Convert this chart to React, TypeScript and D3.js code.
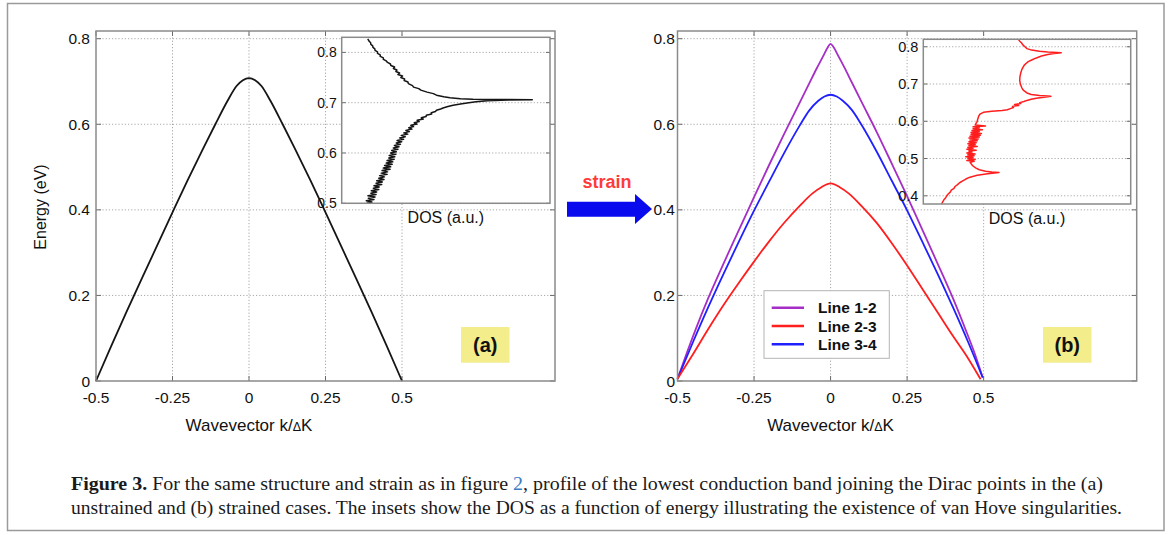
import React from "react";
import * as d3 from "d3";

type P = [number, number];

// ---------- data ----------
const kTicks = [-0.5, -0.25, 0, 0.25, 0.5];
const kTickLabels = ["-0.5", "-0.25", "0", "0.25", "0.5"];
const eTicks = [0, 0.2, 0.4, 0.6, 0.8];
const eTickLabels = ["0", "0.2", "0.4", "0.6", "0.8"];
const insetATicks = [0.5, 0.6, 0.7, 0.8];
const insetATickLabels = ["0.5", "0.6", "0.7", "0.8"];
const insetBTicks = [0.4, 0.5, 0.6, 0.7, 0.8];
const insetBTickLabels = ["0.4", "0.5", "0.6", "0.7", "0.8"];

// (k, E) unstrained lowest conduction band
const bandUnstrained: P[] = [
  [-0.5, 0], [-0.45, 0.082], [-0.4, 0.162], [-0.35, 0.24], [-0.3, 0.317], [-0.25, 0.394],
  [-0.2, 0.47], [-0.15, 0.543], [-0.11, 0.6], [-0.07, 0.655], [-0.04, 0.69], [-0.02, 0.703],
  [0, 0.708], [0.02, 0.703], [0.04, 0.69], [0.07, 0.655], [0.11, 0.6], [0.15, 0.543],
  [0.2, 0.47], [0.25, 0.394], [0.3, 0.317], [0.35, 0.24], [0.4, 0.162], [0.45, 0.082], [0.5, 0],
];

// (k, E) strained bands
const bandLine12: P[] = [
  [-0.5, 0.005], [-0.47, 0.065], [-0.44, 0.122], [-0.4, 0.193], [-0.35, 0.274], [-0.3, 0.352],
  [-0.25, 0.43], [-0.2, 0.506], [-0.15, 0.58], [-0.1, 0.652], [-0.07, 0.695], [-0.045, 0.731],
  [-0.025, 0.758], [-0.01, 0.779], [0, 0.788], [0.01, 0.78], [0.025, 0.76], [0.045, 0.733],
  [0.07, 0.697], [0.1, 0.654], [0.15, 0.583], [0.2, 0.508], [0.25, 0.432], [0.3, 0.353],
  [0.35, 0.274], [0.4, 0.193], [0.44, 0.122], [0.47, 0.066], [0.497, 0.008],
];
const bandLine23: P[] = [
  [-0.5, 0.005], [-0.45, 0.062], [-0.4, 0.121], [-0.35, 0.177], [-0.3, 0.229], [-0.25, 0.279],
  [-0.2, 0.327], [-0.15, 0.371], [-0.1, 0.41], [-0.06, 0.438], [-0.03, 0.453], [0, 0.462],
  [0.03, 0.453], [0.06, 0.438], [0.1, 0.41], [0.15, 0.37], [0.2, 0.322], [0.25, 0.27],
  [0.3, 0.215], [0.35, 0.16], [0.4, 0.105], [0.45, 0.052], [0.49, 0.004],
];
const bandLine34: P[] = [
  [-0.5, 0.005], [-0.45, 0.09], [-0.4, 0.172], [-0.35, 0.25], [-0.3, 0.325], [-0.25, 0.398],
  [-0.2, 0.467], [-0.15, 0.535], [-0.1, 0.598], [-0.07, 0.632], [-0.04, 0.655], [-0.02, 0.665],
  [0, 0.669], [0.02, 0.665], [0.04, 0.655], [0.07, 0.633], [0.1, 0.6], [0.15, 0.537],
  [0.2, 0.468], [0.25, 0.399], [0.3, 0.325], [0.35, 0.25], [0.4, 0.172], [0.45, 0.09], [0.497, 0.008],
];

// (E, DOS a.u.) unstrained inset
const dosUnstrained: P[] = [
  [0.5, 0.12], [0.5025, 0.145], [0.505, 0.118], [0.5075, 0.155], [0.51, 0.128], [0.5125, 0.16],
  [0.515, 0.126], [0.5175, 0.165], [0.52, 0.14], [0.5225, 0.168], [0.525, 0.142], [0.5275, 0.178],
  [0.53, 0.152], [0.5325, 0.18], [0.535, 0.155], [0.5375, 0.192], [0.54, 0.165], [0.5425, 0.195],
  [0.545, 0.168], [0.5475, 0.203], [0.55, 0.178], [0.5525, 0.205], [0.555, 0.182], [0.5575, 0.218],
  [0.56, 0.19], [0.5625, 0.22], [0.565, 0.194], [0.5675, 0.232], [0.57, 0.2], [0.5725, 0.235],
  [0.575, 0.206], [0.5775, 0.242], [0.58, 0.214], [0.5825, 0.245], [0.585, 0.218], [0.5875, 0.252],
  [0.59, 0.226], [0.5925, 0.255], [0.595, 0.228], [0.5975, 0.26], [0.6, 0.235], [0.6025, 0.262],
  [0.605, 0.24], [0.6075, 0.27], [0.61, 0.248], [0.6125, 0.275], [0.615, 0.253], [0.6175, 0.282],
  [0.62, 0.262], [0.6225, 0.288], [0.625, 0.266], [0.6275, 0.297], [0.63, 0.278], [0.6325, 0.305],
  [0.635, 0.286], [0.6375, 0.317], [0.64, 0.298], [0.6425, 0.325], [0.645, 0.308], [0.6475, 0.337],
  [0.65, 0.322], [0.6525, 0.345], [0.655, 0.332], [0.6575, 0.362], [0.66, 0.348], [0.6625, 0.372],
  [0.665, 0.362], [0.6675, 0.392], [0.67, 0.382], [0.6725, 0.405], [0.675, 0.406], [0.6775, 0.432],
  [0.68, 0.43], [0.6825, 0.45], [0.685, 0.455], [0.6875, 0.475], [0.69, 0.49], [0.6925, 0.51],
  [0.695, 0.535], [0.6975, 0.57], [0.7, 0.61], [0.702, 0.645], [0.704, 0.7], [0.7055, 0.8],
  [0.706, 0.915], [0.7065, 0.75], [0.707, 0.63], [0.708, 0.57], [0.71, 0.52], [0.712, 0.49],
  [0.715, 0.455], [0.718, 0.44], [0.721, 0.41], [0.725, 0.38], [0.728, 0.37], [0.731, 0.345],
  [0.734, 0.34], [0.738, 0.32], [0.741, 0.318], [0.744, 0.3], [0.747, 0.302], [0.75, 0.284],
  [0.753, 0.292], [0.756, 0.27], [0.759, 0.278], [0.762, 0.26], [0.765, 0.265], [0.768, 0.248],
  [0.771, 0.254], [0.774, 0.236], [0.777, 0.234], [0.78, 0.22], [0.783, 0.214], [0.786, 0.2],
  [0.789, 0.2], [0.792, 0.185], [0.795, 0.185], [0.798, 0.172], [0.801, 0.172], [0.804, 0.16],
  [0.807, 0.159], [0.81, 0.15], [0.813, 0.149], [0.816, 0.14], [0.819, 0.139], [0.822, 0.132],
  [0.825, 0.128], [0.827, 0.125],
];

// (E, DOS a.u.) strained inset
const dosStrained: P[] = [
  [0.378, 0.088], [0.385, 0.095], [0.39, 0.1], [0.395, 0.108], [0.4, 0.113], [0.405, 0.12],
  [0.41, 0.13], [0.415, 0.135], [0.42, 0.148], [0.425, 0.153], [0.43, 0.165], [0.435, 0.175],
  [0.44, 0.19], [0.445, 0.205], [0.45, 0.225], [0.455, 0.26], [0.459, 0.31], [0.4625, 0.365],
  [0.464, 0.33], [0.466, 0.3], [0.47, 0.27], [0.475, 0.252], [0.48, 0.24], [0.485, 0.232],
  [0.49, 0.226], [0.4925, 0.245], [0.495, 0.21], [0.4975, 0.25], [0.5, 0.215], [0.5025, 0.24],
  [0.505, 0.205], [0.5075, 0.245], [0.51, 0.215], [0.5125, 0.25], [0.515, 0.21], [0.5175, 0.235],
  [0.52, 0.22], [0.5225, 0.255], [0.525, 0.21], [0.5275, 0.24], [0.53, 0.215], [0.5325, 0.26],
  [0.535, 0.22], [0.5375, 0.25], [0.54, 0.215], [0.5425, 0.255], [0.545, 0.22], [0.5475, 0.26],
  [0.55, 0.225], [0.5525, 0.265], [0.555, 0.22], [0.5575, 0.27], [0.56, 0.225], [0.5625, 0.275],
  [0.565, 0.23], [0.5675, 0.28], [0.57, 0.23], [0.5725, 0.27], [0.575, 0.235], [0.5775, 0.285],
  [0.58, 0.24], [0.5825, 0.27], [0.585, 0.24], [0.5875, 0.3], [0.59, 0.25], [0.595, 0.255],
  [0.6, 0.26], [0.605, 0.262], [0.61, 0.265], [0.615, 0.268], [0.62, 0.275], [0.624, 0.29],
  [0.627, 0.33], [0.629, 0.38], [0.631, 0.405], [0.634, 0.42], [0.637, 0.435], [0.64, 0.43],
  [0.6425, 0.46], [0.645, 0.44], [0.6475, 0.47], [0.65, 0.465], [0.653, 0.485], [0.656, 0.5],
  [0.659, 0.52], [0.662, 0.545], [0.665, 0.59], [0.667, 0.615], [0.669, 0.56], [0.672, 0.52],
  [0.676, 0.5], [0.68, 0.49], [0.685, 0.48], [0.69, 0.475], [0.7, 0.468], [0.71, 0.465],
  [0.72, 0.466], [0.73, 0.47], [0.74, 0.476], [0.75, 0.486], [0.755, 0.495], [0.76, 0.506],
  [0.765, 0.525], [0.77, 0.545], [0.775, 0.57], [0.779, 0.6], [0.782, 0.63], [0.784, 0.665],
  [0.786, 0.6], [0.788, 0.56], [0.791, 0.522], [0.795, 0.5], [0.8, 0.49], [0.805, 0.48],
  [0.81, 0.474], [0.815, 0.465], [0.82, 0.458],
];

const legendNames = ["Line 1-2", "Line 2-3", "Line 3-4"];
const legendColors = ["#a52ec6", "#ff1e1e", "#2020ff"];
const panelLabels = ["(a)", "(b)"];
const xAxisTitle = ["Wavevector k/", "\u0394", "K"];
const yAxisTitle = "Energy (eV)";
const insetTitle = "DOS (a.u.)";
const arrowLabel = "strain";
const captionBold = "Figure 3.";
const captionPart1 = " For the same structure and strain as in figure ";
const captionRef = "2";
const captionPart2 = ", profile of the lowest conduction band joining the Dirac points in the (a)";
const captionLine2 =
  "unstrained and (b) strained cases. The insets show the DOS as a function of energy illustrating the existence of van Hove singularities.";

// ---------- styling ----------
const FONT = "'Liberation Sans', Arial, Helvetica, sans-serif";
const GRID = "#a8a8a8";
const FRAME = "#8a8a8a";
const TICK = "#6a6a6a";

type Series = { data: P[]; color: string; width: number };

function Inset(props: {
  x0: number; x1: number; y0: number; y1: number;
  domain: [number, number]; ticks: number[]; tickLabels: string[];
  data: P[]; color: string; fontSize: number; id: string;
}) {
  const { x0, x1, y0, y1, domain, ticks, tickLabels, data, color, fontSize, id } = props;
  const xs = d3.scaleLinear().domain([0, 1]).range([x0, x1]);
  const ys = d3.scaleLinear().domain(domain).range([y1, y0]);
  const line = d3.line<P>().x((d) => xs(d[1])).y((d) => ys(d[0]));
  return (
    <g>
      <clipPath id={id}>
        <rect x={x0} y={y0} width={x1 - x0} height={y1 - y0} />
      </clipPath>
      <rect x={x0} y={y0} width={x1 - x0} height={y1 - y0} fill="#fff" />
      {ticks.map((t, i) => (
        <g key={i}>
          <line x1={x0} x2={x1} y1={ys(t)} y2={ys(t)} stroke={GRID} strokeDasharray="1.2 2" />
          <line x1={x0} x2={x0 + 4} y1={ys(t)} y2={ys(t)} stroke={TICK} />
          <line x1={x1 - 4} x2={x1} y1={ys(t)} y2={ys(t)} stroke={TICK} />
          <text x={x0 - 5} y={ys(t)} dy="0.36em" textAnchor="end" fontSize={fontSize} fontFamily={FONT} fill="#111">
            {tickLabels[i]}
          </text>
        </g>
      ))}
      <path d={line(data) || ""} fill="none" stroke={color} strokeWidth={1.5} clipPath={`url(#${id})`} strokeLinejoin="round" />
      <rect x={x0} y={y0} width={x1 - x0} height={y1 - y0} fill="none" stroke={FRAME} strokeWidth={1.5} />
      <text x={(x0 + x1) / 2} y={y1 + 20} textAnchor="middle" fontSize={16} fontFamily={FONT} fill="#111">
        {insetTitle}
      </text>
    </g>
  );
}

function MainPanel(props: {
  x0: number; x1: number; y0: number; y1: number;
  series: Series[]; yLabelGap: number; showYTitle: boolean;
  badge: string; badgeX: number;
  children?: React.ReactNode;
  legend?: boolean;
}) {
  const { x0, x1, y0, y1, series, yLabelGap, showYTitle, badge, badgeX, children, legend } = props;
  const x = d3.scaleLinear().domain([-0.5, 1.0]).range([x0, x1]);
  const y = d3.scaleLinear().domain([0, 0.818]).range([y1, y0]);
  const line = d3.line<P>().x((d) => x(d[0])).y((d) => y(d[1])).curve(d3.curveMonotoneX);
  return (
    <g>
      <rect x={x0} y={y0} width={x1 - x0} height={y1 - y0} fill="#fff" />
      {kTicks.filter((k) => k > -0.5).map((k, i) => (
        <line key={"vg" + i} x1={x(k)} x2={x(k)} y1={y0} y2={y1} stroke={GRID} strokeDasharray="1.2 2" />
      ))}
      {eTicks.filter((e) => e > 0).map((e, i) => (
        <line key={"hg" + i} x1={x0} x2={x1} y1={y(e)} y2={y(e)} stroke={GRID} strokeDasharray="1.2 2" />
      ))}
      {kTicks.map((k, i) => (
        <g key={"kt" + i}>
          <line x1={x(k)} x2={x(k)} y1={y1} y2={y1 - 5} stroke={TICK} />
          <line x1={x(k)} x2={x(k)} y1={y0} y2={y0 + 5} stroke={TICK} />
          <text x={x(k)} y={y1 + 22} textAnchor="middle" fontSize={15.5} fontFamily={FONT} fill="#111">
            {kTickLabels[i]}
          </text>
        </g>
      ))}
      {eTicks.map((e, i) => (
        <g key={"et" + i}>
          <line x1={x0} x2={x0 + 5} y1={y(e)} y2={y(e)} stroke={TICK} />
          <line x1={x1} x2={x1 - 5} y1={y(e)} y2={y(e)} stroke={TICK} />
          <text x={x0 - yLabelGap} y={y(e)} dy="0.36em" textAnchor="end" fontSize={15.5} fontFamily={FONT} fill="#111">
            {eTickLabels[i]}
          </text>
        </g>
      ))}
      {series.map((s, i) => (
        <path key={"s" + i} d={line(s.data) || ""} fill="none" stroke={s.color} strokeWidth={s.width} strokeLinejoin="round" />
      ))}
      {children}
      {legend && (
        <g>
          <rect x={764} y={290.7} width={125.3} height={67.6} fill="#fff" stroke="#b4b4b4" strokeWidth={1} />
          {legendNames.map((n, i) => (
            <g key={"lg" + i}>
              <line x1={771.7} x2={804} y1={307.7 + i * 18.3} y2={307.7 + i * 18.3} stroke={legendColors[i]} strokeWidth={2.5} />
              <text x={818} y={307.7 + i * 18.3} dy="0.36em" fontSize={15.5} fontWeight="bold" fontFamily={FONT} fill="#111">
                {n}
              </text>
            </g>
          ))}
        </g>
      )}
      <rect x={badgeX} y={327} width={48.5} height={35.7} fill="#f3ed8b" />
      <text x={badgeX + 24.25} y={345} dy="0.36em" textAnchor="middle" fontSize={20} fontWeight="bold" fontFamily={FONT} fill="#111">
        {badge}
      </text>
      <rect x={x0} y={y0} width={x1 - x0} height={y1 - y0} fill="none" stroke={FRAME} strokeWidth={1.5} />
      <text x={x(0)} y={y1 + 50} textAnchor="middle" fontSize={17} fontFamily={FONT} fill="#111">
        {xAxisTitle[0]}
        <tspan fontSize={12.5}>{xAxisTitle[1]}</tspan>
        {xAxisTitle[2]}
      </text>
      {showYTitle && (
        <text transform={`translate(${x0 - 50},${(y0 + y1) / 2 + 1}) rotate(-90)`} textAnchor="middle" fontSize={16} fontFamily={FONT} fill="#111">
          {yAxisTitle}
        </text>
      )}
    </g>
  );
}

export default function App() {
  return (
    <svg width={1171} height={535} style={{ position: "absolute", left: 0, top: 0, background: "#fff" }}>
      <rect x={0} y={0} width={1171} height={535} fill="#fff" />
      <rect x={7.5} y={3.5} width={1156.5} height={527} fill="none" stroke="#9a9a9a" strokeWidth={1.5} />

      <MainPanel x0={96} x1={555} y0={31} y1={381} yLabelGap={6}
        series={[{ data: bandUnstrained, color: "#151515", width: 1.8 }]}
        showYTitle badge={panelLabels[0]} badgeX={461}>
        <Inset x0={341.7} x1={550} y0={37.3} y1={203.3} domain={[0.5, 0.83]}
          ticks={insetATicks} tickLabels={insetATickLabels} data={dosUnstrained}
          color="#151515" fontSize={14} id="clipA" />
      </MainPanel>

      <MainPanel x0={677.5} x1={1136.7} y0={31} y1={381} yLabelGap={2.5}
        series={[
          { data: bandLine12, color: legendColors[0], width: 1.8 },
          { data: bandLine34, color: legendColors[2], width: 1.8 },
          { data: bandLine23, color: legendColors[1], width: 1.8 },
        ]}
        showYTitle={false} badge={panelLabels[1]} badgeX={1043} legend>
        <Inset x0={923.3} x1={1130.7} y0={39.3} y1={204} domain={[0.378, 0.82]}
          ticks={insetBTicks} tickLabels={insetBTickLabels} data={dosStrained}
          color="#ff1e1e" fontSize={14.5} id="clipB" />
      </MainPanel>

      {/* strain arrow */}
      <path d="M567,201.7 L635,201.7 L635,194 L652,209 L635,224 L635,216.7 L567,216.7 Z" fill="#0a0aee" />
      <text x={607} y={188} textAnchor="middle" fontSize={18} fontWeight="bold" fontFamily={FONT} fill="#ff3a3a">
        {arrowLabel}
      </text>

      {/* caption */}
      <text x={71} y={490} fontSize={18} fontFamily="'Liberation Serif', 'Times New Roman', serif" fill="#1a1a1a"
        textLength={1032} lengthAdjust="spacingAndGlyphs">
        <tspan fontWeight="bold">{captionBold}</tspan>
        {captionPart1}
        <tspan fill="#3a7cc4">{captionRef}</tspan>
        {captionPart2}
      </text>
      <text x={71} y={514} fontSize={18} fontFamily="'Liberation Serif', 'Times New Roman', serif" fill="#1a1a1a"
        textLength={1051} lengthAdjust="spacingAndGlyphs">
        {captionLine2}
      </text>
    </svg>
  );
}
